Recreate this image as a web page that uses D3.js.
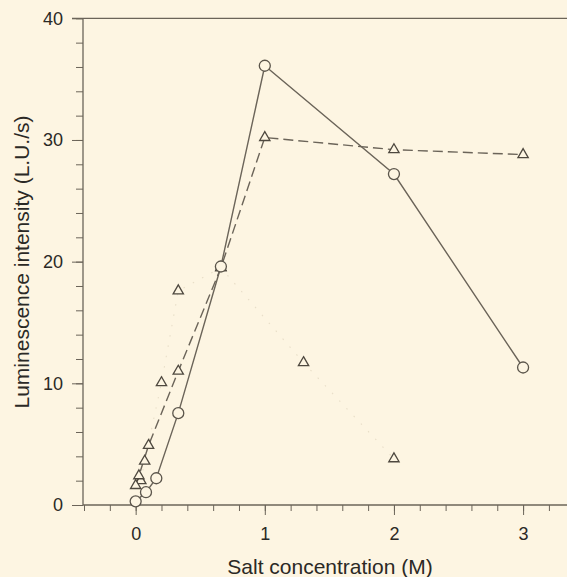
<!DOCTYPE html>
<html>
<head>
<meta charset="utf-8">
<script src="https://cdn.jsdelivr.net/npm/d3@7"></script>
<style>
  body { margin: 0; background: #fdf5e2; }
  svg { display: block; }
  text { font-family: "Liberation Sans", Arial, sans-serif; fill: #2b2925; }
</style>
</head>
<body>
<div id="chart"></div>
<script>
// salt concentration (M) vs luminescence (L.U./s)
const circleX = [0, 0.08, 0.16, 0.33, 0.66, 1, 2, 3];
const circleY = [0.3, 1.05, 2.2, 7.55, 19.6, 36.1, 27.2, 11.3];

const dashX = [0, 0.025, 0.1, 0.33, 0.66, 1, 2, 3];
const dashY = [1.6, 2.4, 4.9, 11.0, 19.5, 30.2, 29.2, 28.8];

const dotX = [0.04, 0.07, 0.2, 0.33, 0.66, 1.3, 2];
const dotY = [2.0, 3.6, 10.05, 17.6, 19.5, 11.7, 3.8];

const xTicks = [0, 1, 2, 3];
const yTicks = [0, 10, 20, 30, 40];

var width = 567, height = 577;
var lineColor = "#6b6459";

var svg = d3.select("#chart")
  .append("svg")
  .attr("width", width)
  .attr("height", height);

var x = d3.scaleLinear().domain([-0.4, 3.34]).range([84, 567]);
var y = d3.scaleLinear().domain([0, 40]).range([505, 18.3]);

// minor ticks
var xMinor = d3.range(-0.4, 3.21, 0.2).map((d) => Math.round(d * 10) / 10);
var yMinor = d3.range(0, 41, 2);

// x axis
svg.append("g")
  .attr("transform", "translate(0," + y(0) + ")")
  .call(d3.axisBottom(x).tickValues(xMinor).tickSize(6).tickFormat(""))
  .call((g) => g.select(".domain").remove())
  .selectAll("line").attr("stroke", lineColor);

svg.append("g")
  .attr("transform", "translate(0," + y(0) + ")")
  .call(d3.axisBottom(x).tickValues(xTicks).tickSize(10).tickPadding(12).tickFormat(d3.format("d")))
  .call((g) => g.select(".domain").remove())
  .call((g) => g.selectAll("line").attr("stroke", lineColor))
  .call((g) => g.selectAll("text").style("font-size", "18px").style("fill", "#2b2925"));

// y axis
svg.append("g")
  .attr("transform", "translate(" + 83 + ",0)")
  .call(d3.axisLeft(y).tickValues(yMinor).tickSize(7).tickFormat(""))
  .call((g) => g.select(".domain").remove())
  .selectAll("line").attr("stroke", lineColor);

svg.append("g")
  .attr("transform", "translate(" + 83 + ",0)")
  .call(d3.axisLeft(y).tickValues(yTicks).tickSize(11).tickPadding(9).tickFormat(d3.format("d")))
  .call((g) => g.select(".domain").remove())
  .call((g) => g.selectAll("line").attr("stroke", lineColor))
  .call((g) => g.selectAll("text").style("font-size", "18px").style("fill", "#2b2925"));

// frame lines
svg.append("line")
  .attr("x1", 83).attr("x2", 83)
  .attr("y1", y(40)).attr("y2", y(0))
  .attr("stroke", lineColor).attr("stroke-width", 1.3);
svg.append("line")
  .attr("x1", 83).attr("x2", width)
  .attr("y1", y(0)).attr("y2", y(0))
  .attr("stroke", lineColor).attr("stroke-width", 1.3);
svg.append("line")
  .attr("x1", 72).attr("x2", width)
  .attr("y1", y(40)).attr("y2", y(40))
  .attr("stroke", lineColor).attr("stroke-width", 1.3);

// axis labels
svg.append("text")
  .attr("x", 330)
  .attr("y", 574)
  .attr("text-anchor", "middle")
  .style("font-size", "21px")
  .text("Salt concentration (M)");

svg.append("text")
  .attr("transform", "rotate(-90)")
  .attr("x", -262)
  .attr("y", 29)
  .attr("text-anchor", "middle")
  .style("font-size", "21px")
  .text("Luminescence intensity (L.U./s)");

function pts(xs, ys) {
  var out = [];
  for (var i = 0; i < xs.length; i++) out.push({ x: xs[i], y: ys[i] });
  return out;
}

var circlePts = pts(circleX, circleY);
var dashPts = pts(dashX, dashY);
var dotPts = pts(dotX, dotY);

var line = d3.line().x((d) => x(d.x)).y((d) => y(d.y));

// dotted series line, almost lost in the scan
svg.append("path")
  .datum(dotPts)
  .attr("d", line)
  .attr("fill", "none")
  .attr("stroke", "#e8dec8")
  .attr("stroke-width", 1.1)
  .attr("stroke-dasharray", "1.5,9");

// dashed series line
svg.append("path")
  .datum(dashPts)
  .attr("d", line)
  .attr("fill", "none")
  .attr("stroke", lineColor)
  .attr("stroke-width", 1.4)
  .attr("stroke-dasharray", "10,5");

// solid series line
svg.append("path")
  .datum(circlePts)
  .attr("d", line)
  .attr("fill", "none")
  .attr("stroke", lineColor)
  .attr("stroke-width", 1.4);

var tri = d3.symbol().type(d3.symbolTriangle).size(46);

svg.append("g")
  .selectAll("path")
  .data(dotPts.concat(dashPts))
  .enter()
  .append("path")
  .attr("d", tri)
  .attr("transform", (d) => "translate(" + x(d.x) + "," + y(d.y) + ")")
  .attr("fill", "#fdf5e2")
  .attr("stroke", "#4e483f")
  .attr("stroke-width", 1.3);

svg.append("g")
  .selectAll("circle")
  .data(circlePts)
  .enter()
  .append("circle")
  .attr("cx", (d) => x(d.x))
  .attr("cy", (d) => y(d.y))
  .attr("r", 5.5)
  .attr("fill", "#fdf5e2")
  .attr("stroke", "#5b554b")
  .attr("stroke-width", 1.3);
</script>
</body>
</html>
